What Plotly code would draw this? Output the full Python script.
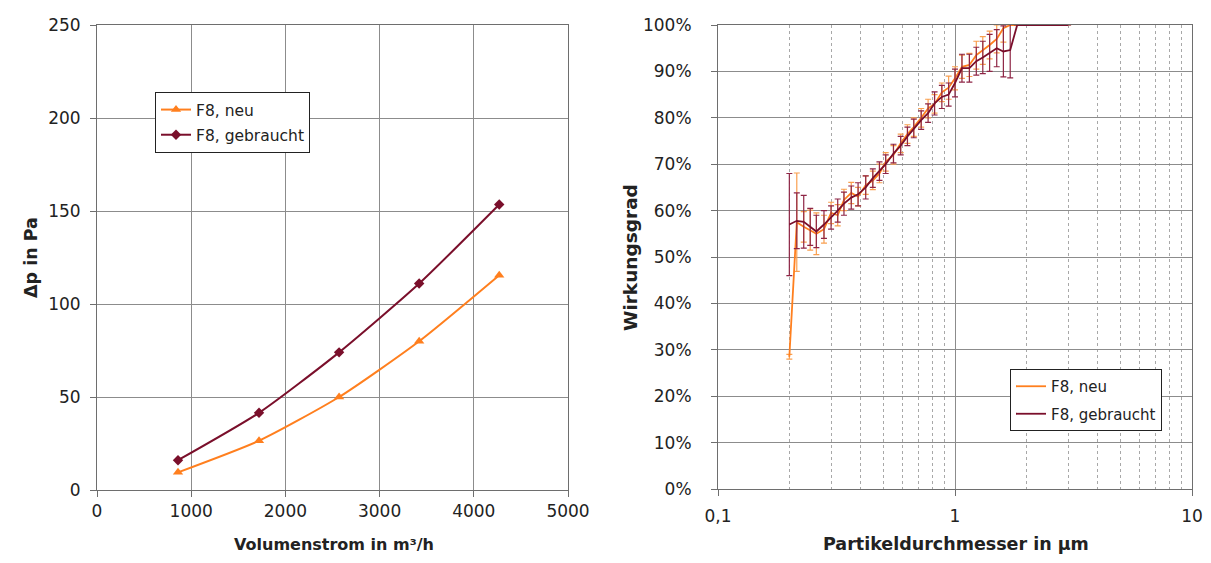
import plotly.graph_objects as go

# ---- Left chart data ----
flow = [860, 1720, 2570, 3420, 4270]
dp_neu = [9.5, 26.5, 50.0, 80.0, 115.5]
dp_gebraucht = [16.0, 41.5, 74.0, 111.0, 153.5]
left_xticks = [0, 1000, 2000, 3000, 4000, 5000]
left_yticks = [0, 50, 100, 150, 200, 250]

# ---- Right chart data ----
diam = [0.2, 0.215, 0.23, 0.245, 0.26, 0.28, 0.30, 0.32, 0.34, 0.365, 0.39, 0.42,
        0.45, 0.48, 0.51, 0.55, 0.59, 0.63, 0.67, 0.72, 0.77, 0.82, 0.88, 0.94,
        1.0, 1.07, 1.15, 1.23, 1.31, 1.40, 1.50, 1.60, 1.71, 1.83, 2.2, 2.6, 3.0]
eff_neu = [28.5, 57.5, 56.5, 55.8, 55.0, 56.0, 59.5, 59.0, 62.3, 63.8, 63.0, 65.5,
           66.5, 68.0, 70.5, 72.0, 74.5, 76.5, 78.0, 80.0, 82.0, 83.0, 85.5, 86.5,
           88.5, 91.0, 91.4, 93.5, 94.5, 95.7, 97.0, 99.3, 100, 100, 100, 100, 100]
err_neu = [0.5, 10.6, 3.3, 4.3, 4.5, 3.0, 2.3, 2.3, 2.3, 2.3, 2.0, 2.0,
           2.0, 2.0, 2.0, 2.0, 2.0, 2.0, 2.0, 2.0, 2.0, 2.0, 2.0, 2.5,
           2.5, 2.5, 2.5, 3.0, 3.0, 3.0, 3.0, 3.0, 0, 0, 0, 0, 0]
eff_gebraucht = [57.0, 57.8, 57.6, 56.5, 55.5, 57.0, 58.5, 60.0, 61.5, 62.8, 63.5, 65.0,
                 67.0, 68.5, 70.0, 72.3, 74.0, 76.0, 77.7, 79.5, 81.0, 83.1, 84.5, 85.0,
                 87.5, 90.7, 90.7, 92.2, 93.0, 94.0, 95.0, 94.3, 94.6, 100, 100, 100, 100]
err_gebraucht = [11.0, 6.0, 5.7, 4.0, 3.5, 3.0, 2.5, 2.5, 2.5, 2.5, 2.5, 2.5,
                 2.0, 2.0, 2.0, 2.0, 2.0, 2.0, 2.0, 2.0, 2.0, 2.5, 2.5, 2.5,
                 3.0, 3.0, 3.0, 3.0, 3.5, 4.0, 4.0, 5.5, 6.0, 0, 0, 0, 0]
right_xticks = [0.1, 1, 10]
right_xticktext = ["0,1", "1", "10"]
right_minor = [0.2, 0.3, 0.4, 0.5, 0.6, 0.7, 0.8, 0.9, 2, 3, 4, 5, 6, 7, 8, 9]
right_yticks = [0, 0.1, 0.2, 0.3, 0.4, 0.5, 0.6, 0.7, 0.8, 0.9, 1.0]

ORANGE = "#FF7F1E"
MAROON = "#7A0F2B"
GRID = "#8C8C8C"
FONT = "DejaVu Sans, Verdana, sans-serif"

fig = go.Figure()

fig.add_trace(go.Scatter(
    x=flow, y=dp_neu, name="F8, neu", mode="lines+markers", legendgroup="a",
    line=dict(color=ORANGE, width=2, shape="spline", smoothing=0.6),
    marker=dict(symbol="triangle-up", size=9, color=ORANGE),
    xaxis="x", yaxis="y", legend="legend"))
fig.add_trace(go.Scatter(
    x=flow, y=dp_gebraucht, name="F8, gebraucht", mode="lines+markers", legendgroup="b",
    line=dict(color=MAROON, width=2, shape="spline", smoothing=0.6),
    marker=dict(symbol="diamond", size=8, color=MAROON),
    xaxis="x", yaxis="y", legend="legend"))

fig.add_trace(go.Scatter(
    x=diam, y=[v / 100 for v in eff_neu], name="F8, neu", mode="lines", legendgroup="c",
    line=dict(color=ORANGE, width=1.8),
    error_y=dict(type="data", array=[e / 100 for e in err_neu], color="#F9A050",
                 thickness=1.2, width=3),
    xaxis="x2", yaxis="y2", legend="legend2"))
fig.add_trace(go.Scatter(
    x=diam, y=[v / 100 for v in eff_gebraucht], name="F8, gebraucht", mode="lines", legendgroup="d",
    line=dict(color=MAROON, width=1.8),
    error_y=dict(type="data", array=[e / 100 for e in err_gebraucht], color="#8E2545",
                 thickness=1.2, width=3),
    xaxis="x2", yaxis="y2", legend="legend2"))

# page body adds an 8px offset; map reference pixel coords into figure coords
OFF = 8
W, H = 1211 - 2 * OFF, 563 - 2 * OFF
def fx(px):
    return (px - OFF) / W
def fy(py):
    return 1 - (py - OFF) / H

axis_common = dict(showline=True, linecolor="#6E6E6E", linewidth=1, mirror=True,
                   showgrid=True, gridcolor=GRID, gridwidth=1, zeroline=False,
                   ticks="outside", ticklen=6, tickcolor="#6E6E6E", automargin=False,
                   tickfont=dict(family=FONT, size=17, color="#222"))

def tfont(s):
    return dict(family=FONT, size=s, color="#222")

def title(text, px, py, size, angle=0):
    return dict(text=text, x=fx(px), y=fy(py), xref="paper", yref="paper",
                xanchor="center", yanchor="middle", showarrow=False,
                textangle=angle, font=tfont(size))

fig.update_layout(
    width=W, height=H, margin=dict(l=0, r=0, t=0, b=0),
    paper_bgcolor="white", plot_bgcolor="white",
    font=dict(family=FONT, size=15, color="#222"),
    xaxis=dict(domain=[fx(97), fx(568)], range=[0, 5000], tickvals=left_xticks,
               anchor="y", **axis_common),
    yaxis=dict(domain=[fy(490), fy(25)], range=[0, 250], tickvals=left_yticks,
               anchor="x", ticklabelstandoff=6, **axis_common),
    xaxis2=dict(domain=[fx(718), fx(1192)], type="log", range=[-1, 1],
                tickvals=right_xticks, ticktext=right_xticktext, anchor="y2",
                ticklabelstandoff=6,
                minor=dict(tickvals=right_minor,
                           showgrid=True, gridcolor="#A8A8A8", griddash="dot", gridwidth=1,
                           ticks=""),
                **axis_common),
    yaxis2=dict(domain=[fy(489), fy(25)], range=[0, 1], tickvals=right_yticks,
                tickformat=".0%", anchor="x2", ticklabelstandoff=16, **axis_common),
    legend=dict(x=fx(155), y=fy(92), xanchor="left", yanchor="top",
                bordercolor="#222", borderwidth=1, bgcolor="white",
                font=tfont(15.5), tracegroupgap=2),
    legend2=dict(x=fx(1010), y=fy(369), xanchor="left", yanchor="top",
                 bordercolor="#222", borderwidth=1, bgcolor="white",
                 font=tfont(15), tracegroupgap=5),
    showlegend=True,
    annotations=[
        title("<b>Volumenstrom in m³/h</b>", 334, 544, 16),
        title("<b>Δp in Pa</b>", 31, 258, 17.5, -90),
        title("<b>Wirkungsgrad</b>", 630, 258, 18.5, -90),
        title("<b>Partikeldurchmesser in µm</b>", 956, 544, 17.5),
    ],
)

fig.write_html("out.html")
